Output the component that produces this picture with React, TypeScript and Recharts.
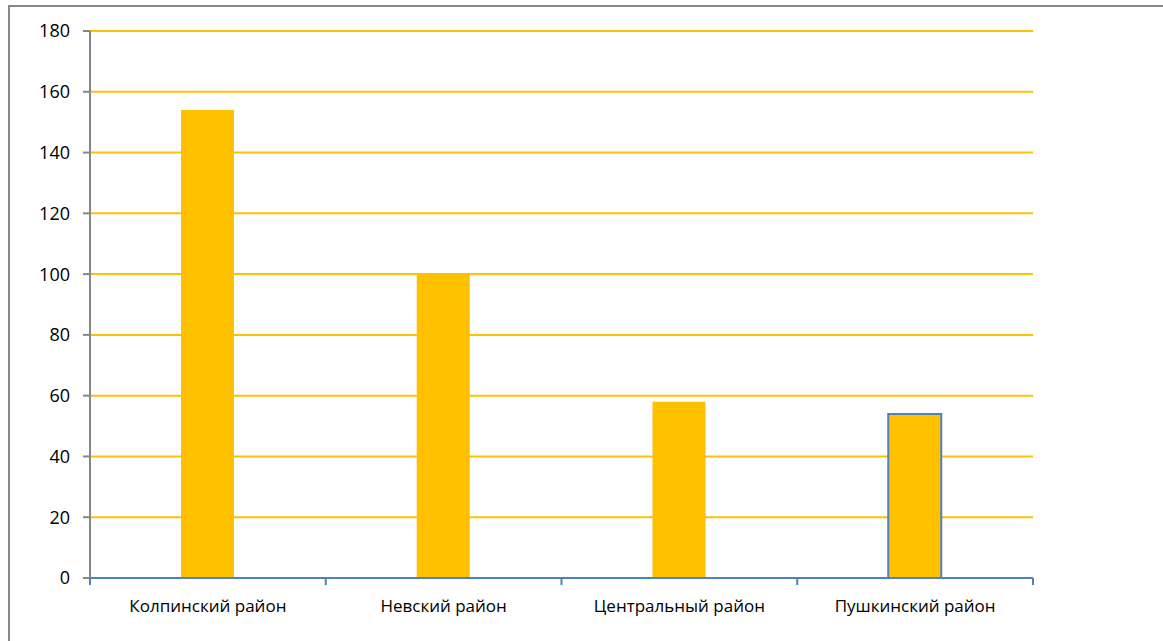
import { BarChart, Bar, XAxis, YAxis, CartesianGrid, Cell } from "recharts";

const districts = ["Колпинский район", "Невский район", "Центральный район", "Пушкинский район"];
const counts = [154, 100, 58, 54];
const yTicks = [0, 20, 40, 60, 80, 100, 120, 140, 160, 180];

const data = districts.map((name, i) => ({ name, count: counts[i] }));

const FONT = "'Open Sans', sans-serif";
const AXIS_BLUE = "#4f81bd";
const GOLD = "#ffc000";

// category label centred in its band, with the divider ticks at band edges
function DistrictTick(props: any) {
  const { x, y, payload, index, visibleTicksCount } = props;
  const half = payload.offset || 0;
  const last = index === (visibleTicksCount ?? districts.length) - 1;
  return (
    <g>
      <line x1={x - half} y1={y} x2={x - half} y2={y + 7} stroke={AXIS_BLUE} strokeWidth={2} />
      {last && <line x1={x + half} y1={y} x2={x + half} y2={y + 7} stroke={AXIS_BLUE} strokeWidth={2} />}
      <text x={x} y={y + 34} textAnchor="middle" fontSize={17} fill="#000" fontFamily={FONT}>
        {payload.value}
      </text>
    </g>
  );
}

export default function App() {
  return (
    <div
      style={{
        position: "absolute",
        left: 0,
        top: 0,
        width: 1163,
        height: 641,
        background: "#fff",
      }}
    >
      <div
        style={{
          position: "absolute",
          left: 8,
          top: 5,
          right: 0,
          bottom: 0,
          borderTop: "2px solid #888",
          borderLeft: "2px solid #888",
        }}
      />
      <BarChart
        width={1163}
        height={641}
        data={data}
        margin={{ top: 31, right: 130, left: 0, bottom: 0 }}
        barCategoryGap={0}
        style={{ position: "absolute", left: 0, top: 0 }}
      >
        <CartesianGrid vertical={false} stroke={GOLD} strokeWidth={2} />
        <XAxis
          dataKey="name"
          height={63}
          axisLine={{ stroke: AXIS_BLUE, strokeWidth: 2 }}
          tickLine={false}
          tickSize={0}
          tickMargin={0}
          interval={0}
          tick={<DistrictTick />}
        />
        <YAxis
          width={90}
          domain={[0, 180]}
          ticks={yTicks}
          interval={0}
          axisLine={{ stroke: "#868686", strokeWidth: 2 }}
          tickLine={{ stroke: "#868686", strokeWidth: 2 }}
          tickSize={7}
          tickMargin={13}
          tick={{ fontSize: 18, fill: "#000", fontFamily: FONT }}
        />
        <Bar dataKey="count" barSize={53} fill={GOLD} isAnimationActive={false}>
          {data.map((d, i) => (
            <Cell
              key={d.name}
              fill={GOLD}
              stroke={i === 3 ? AXIS_BLUE : "none"}
              strokeWidth={i === 3 ? 2 : 0}
            />
          ))}
        </Bar>
      </BarChart>
    </div>
  );
}
